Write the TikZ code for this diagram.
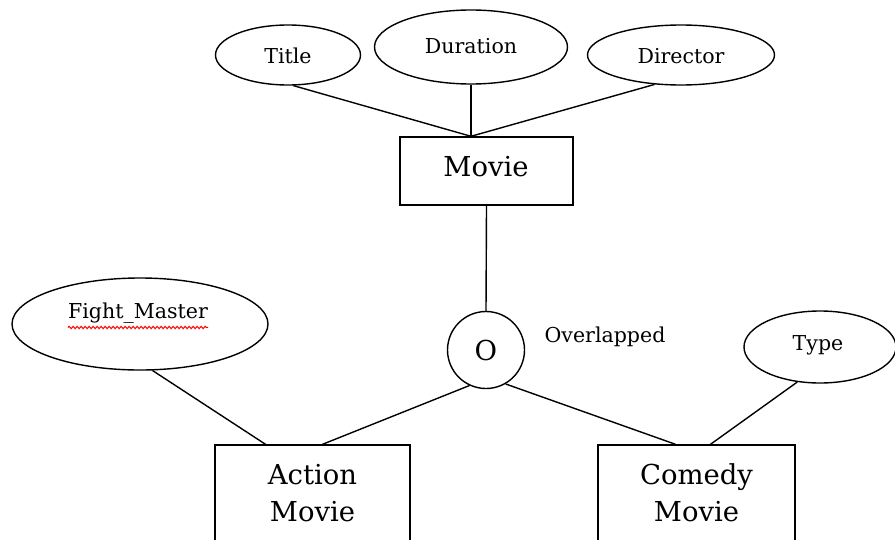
\documentclass[tikz,border=0pt]{standalone}
\usepackage{fontspec}
\setmainfont{DejaVu Serif}
\usetikzlibrary{shapes.geometric,calc,decorations.pathmorphing}
\tikzset{
  conn/.style={line width=1.05pt},
  attr/.style={ellipse,draw,line width=1.05pt,inner sep=0pt},
  entity/.style={rectangle,draw,line width=1.05pt,inner sep=0pt},
  small/.style={font=\fontsize{15.4}{18}\selectfont,inner sep=0pt},
  big/.style={font=\fontsize{20.6}{27.75}\selectfont,inner sep=0pt,align=center},
}
\begin{document}
\begin{tikzpicture}[x=0.75pt,y=-0.75pt]
\clip (0,0) rectangle (895,539);
\fill[white] (0,0) rectangle (895,539);

% attributes of Movie
\node[attr,minimum width=108.75pt,minimum height=45pt] (title) at (288,55) {};
\node[small] (titletxt) at (288,56) {Title};
\node[attr,minimum width=144.75pt,minimum height=55.5pt] (duration) at (471,47) {};
\node[small] (durationtxt) at (471,46) {Duration};
\node[attr,minimum width=140.25pt,minimum height=45pt] (director) at (681,55) {};
\node[small] (directortxt) at (681,56) {Director};

% superclass
\node[entity,minimum width=129.75pt,minimum height=51pt] (movie) at (486.5,171) {};
\node[big] (movietxt) at (486,167) {Movie};
\coordinate (hub) at (movie.north -| duration.south);

% disjointness circle
\node[circle,draw,line width=1.05pt,minimum size=57.75pt,inner sep=0pt] (disj) at (486,350) {};
\node[big] (disjtxt) at (486,350) {O};
\node[small] (overlap) at (605,337) {Overlapped};

% subclasses
\node[entity,minimum width=146.25pt,minimum height=116.25pt] (action) at (312.5,522.5) {};
\node[big] (actiontxt) at (312.5,493) {Action\\Movie};
\node[entity,minimum width=147.75pt,minimum height=116.25pt] (comedy) at (696.5,522.5) {};
\node[big] (comedytxt) at (696.5,493) {Comedy\\Movie};

% attributes of subclasses
\node[attr,minimum width=192pt,minimum height=69pt] (fm) at (140,324) {};
\node[small] (fmtxt) at (138,313) {Fight\_Master};
\draw[red,line width=0.75pt,decorate,decoration={snake,amplitude=0.9pt,segment length=3pt}]
  ($(fmtxt.south west)+(0,4)$) -- ($(fmtxt.south east)+(0,4)$);
\node[attr,minimum width=114pt,minimum height=54pt] (type) at (820,347) {};
\node[small] (typetxt) at (818,345) {Type};

% connectors
\draw[conn] (title.280) -- (hub);
\draw[conn] (duration.south) -- (hub);
\draw[conn] (director.228) -- (hub);
\draw[conn] (movie.south) -- (disj.north);
\draw[conn] (disj.245) -- ($(action.north)+(10,0)$);
\draw[conn] (disj.300) -- ($(comedy.north)+(-21,0)$);
\draw[conn] (fm.285) -- ($(action.north)+(-47,0)$);
\draw[conn] (type.237) -- ($(comedy.north)+(14,0)$);
\end{tikzpicture}
\end{document}
